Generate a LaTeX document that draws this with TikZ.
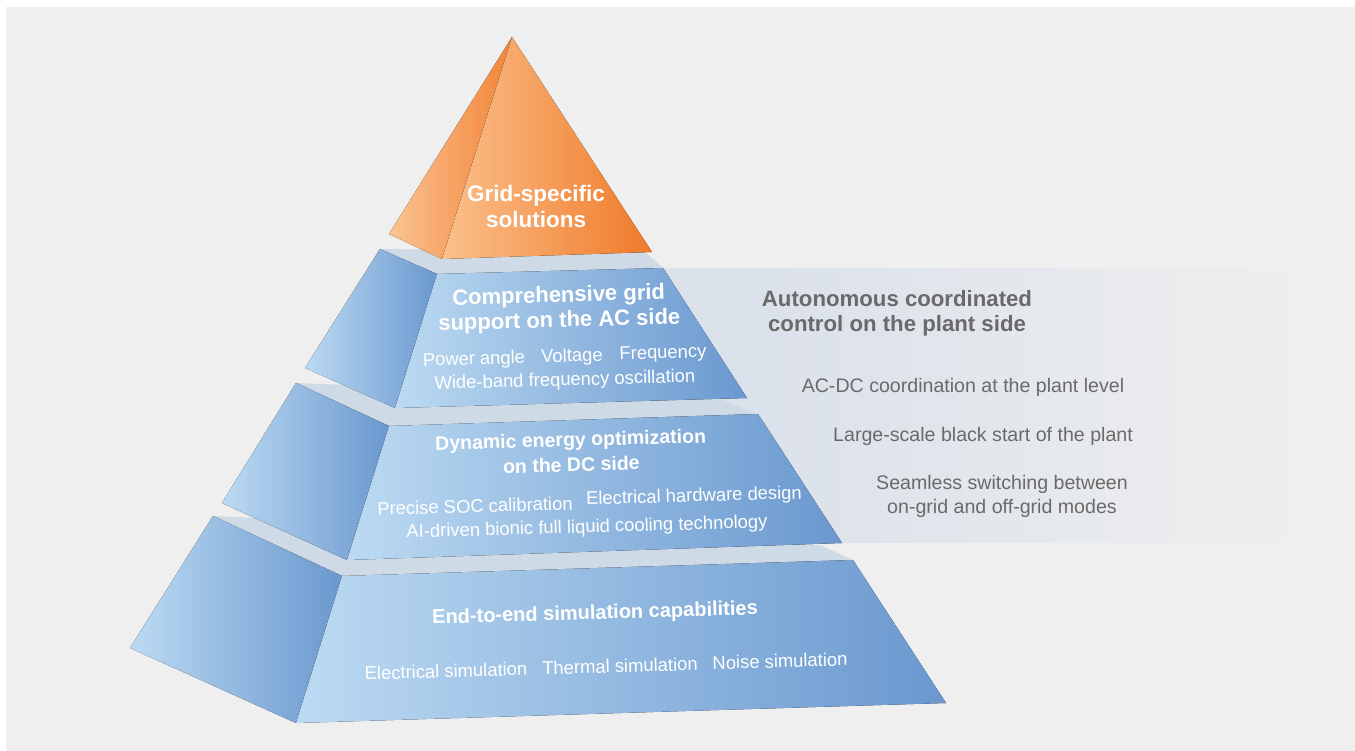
\documentclass[tikz,border=0pt]{standalone}
\usepackage{fontspec}
\setmainfont{Liberation Sans}
\definecolor{bggray}{HTML}{EFEFEF}
\definecolor{panelc}{HTML}{DCE2EB}
\definecolor{ledgec}{HTML}{CEDBE6}
\definecolor{bluel}{HTML}{BCDAF2}
\definecolor{blued}{HTML}{6A98CF}
\definecolor{orangel}{HTML}{FBC08C}
\definecolor{oranged}{HTML}{F07A29}
\definecolor{sidec}{HTML}{6A6A6A}

\begin{document}
\begin{tikzpicture}[x=1pt,y=-1pt,
  face/.style={left color=bluel,right color=blued},
  ledge/.style={fill=ledgec},
  tiptitle/.style={text=white,font=\bfseries\fontsize{22.5}{26}\selectfont,align=center},
  tiertitle/.style={text=white,font=\bfseries\fontsize{22}{25}\selectfont,align=center,rotate=1.6,inner sep=0pt},
  item/.style={text=white,font=\fontsize{18.4}{22}\selectfont,rotate=1.6,inner sep=0pt},
  sidehead/.style={text=sidec,font=\bfseries\fontsize{22.2}{25}\selectfont,align=center},
  sideitem/.style={text=sidec,font=\fontsize{19.6}{24}\selectfont,align=center}]
\useasboundingbox (0,0) rectangle (1355,751);
\fill[bggray] (6,7) rectangle (1355,751);
% plant-side panel behind the pyramid, fading out to the right
\fill[panelc] (660,268) rectangle (781,543);
\foreach \i in {0,...,39}
  \fill[panelc!\fpeval{100-2.5*\i}!bggray] (780+13*\i,268) rectangle (794+13*\i,543);

% base tier
\fill[ledge] (213,516) -- (342,576) -- (853,560) -- (820,545) -- cycle;
\fill[face] (213,516) -- (342,576) -- (296,723) -- (130,648) -- cycle;
\fill[face] (342,576) -- (853,560) -- (946,703) -- (296,723) -- cycle;
% DC tier
\fill[ledge] (296,383) -- (389,426) -- (758,414) -- (720,399) -- cycle;
\fill[face] (296,383) -- (389,426) -- (347,560) -- (222,503) -- cycle;
\fill[face] (389,426) -- (758,414) -- (842,543) -- (347,560) -- cycle;
% AC tier
\fill[ledge] (380,249) -- (437,274) -- (663,268) -- (645,252) -- cycle;
\fill[face] (380,249) -- (437,274) -- (395,408) -- (305,368) -- cycle;
\fill[face] (437,274) -- (663,268) -- (747,398) -- (395,408) -- cycle;
% tip
\fill[left color=orangel!95!white,right color=oranged!85!orangel] (512,37) -- (389,234) -- (442,259) -- cycle;
\fill[left color=orangel,right color=oranged] (512,37) -- (442,259) -- (652,252) -- cycle;

\node[tiptitle] (tip) at (536,206) {Grid-specific\\solutions};

\node[tiertitle] (ac) at (559,309) {Comprehensive grid\\support on the AC side};
\node[item] (ang) at (474,360) {Power angle};
\node[item] (volt) at (572,357) {Voltage};
\node[item] (freq) at (663,354) {Frequency};
\node[item] (osc) at (565,381) {Wide-band frequency oscillation};

\node[tiertitle,font=\bfseries\fontsize{19.5}{25}\selectfont] (dc) at (571,452) {Dynamic energy optimization\\on the DC side};
\node[item] (soc) at (475,506) {Precise SOC calibration};
\node[item] (hw) at (694,497) {Electrical hardware design};
\node[item] (cool) at (587,528) {AI-driven bionic full liquid cooling technology};

\node[tiertitle,font=\bfseries\fontsize{20}{24}\selectfont] (sim) at (595,614) {End-to-end simulation capabilities};
\node[item] (elec) at (446,671) {Electrical simulation};
\node[item] (therm) at (620,666) {Thermal simulation};
\node[item] (noise) at (780,661) {Noise simulation};

\node[sidehead] (plant) at (897,313) {Autonomous coordinated\\control on the plant side};
\node[sideitem] (acdc) at (963,387) {AC-DC coordination at the plant level};
\node[sideitem] (black) at (983,436) {Large-scale black start of the plant};
\node[sideitem] (seam) at (1002,496) {Seamless switching between\\on-grid and off-grid modes};
\end{tikzpicture}
\end{document}
